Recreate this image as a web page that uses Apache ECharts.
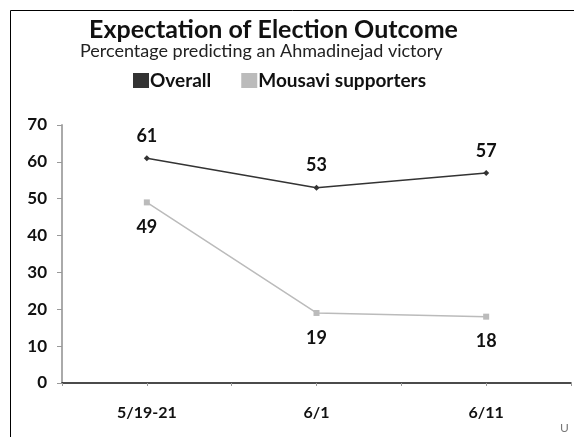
<!DOCTYPE html>
<html>
<head>
<meta charset="utf-8">
<script src="https://cdn.jsdelivr.net/npm/echarts@6/dist/echarts.min.js"></script>
<style>
html, body { margin: 0; padding: 0; background: #fff; }
#main { width: 574px; height: 437px; }
</style>
</head>
<body>
<div id="main"></div>
<script>
// blank slots keep the spacing of the original axis
var categories = ['', '5/19-21', '', '6/1', '', '6/11', ''];
var overall = [null, 61, null, 53, null, 57, null];
var mousavi = [null, 49, null, 19, null, 18, null];
var yTicks = [0, 10, 20, 30, 40, 50, 60, 70];

var chart = echarts.init(document.getElementById('main'));
var font = 'Lato, "Open Sans", sans-serif';

var option = {
    animation: false,
    title: [
        {
            text: 'Expectation of Election Outcome',
            left: 89,
            top: 17,
            padding: 0,
            textStyle: { fontFamily: font, fontSize: 25, fontWeight: 'bold', color: '#111' }
        },
        {
            text: 'Percentage predicting an Ahmadinejad victory',
            left: 80,
            top: 42,
            padding: 0,
            textStyle: { fontFamily: font, fontSize: 18, fontWeight: 'normal', color: '#222' }
        }
    ],
    legend: {
        top: 71,
        left: 133,
        padding: 0,
        itemWidth: 16,
        itemHeight: 15,
        itemGap: 30,
        icon: 'rect',
        textStyle: { fontFamily: font, fontSize: 19, fontWeight: 'bold', color: '#111', padding: [0, 0, 0, -4] },
        data: ['Overall', 'Mousavi supporters']
    },
    grid: { left: 62, top: 125, right: -2, bottom: 54 },
    xAxis: {
        type: 'category',
        data: categories,
        boundaryGap: false,
        axisLine: { lineStyle: { color: '#111', width: 1.5 } },
        axisTick: { show: true, length: 3, lineStyle: { color: '#999' } },
        axisLabel: { interval: 0, margin: 22, fontFamily: font, fontSize: 16, fontWeight: 'bold', color: '#111' },
        splitLine: { show: false }
    },
    yAxis: {
        type: 'value',
        min: yTicks[0],
        max: yTicks[yTicks.length - 1],
        interval: 10,
        axisLine: { show: true, lineStyle: { color: '#aaa', width: 2 } },
        axisTick: { show: true, length: 5, lineStyle: { color: '#999' } },
        axisLabel: { margin: 15, fontFamily: font, fontSize: 17, fontWeight: 'bold', color: '#111' },
        splitLine: { show: false }
    },
    series: [
        {
            name: 'Overall',
            type: 'line',
            data: overall,
            connectNulls: true,
            color: '#333',
            symbol: 'diamond',
            symbolSize: 6,
            lineStyle: { width: 1.5, color: '#333' },
            label: { show: true, position: 'top', distance: 10, fontFamily: font, fontSize: 18, fontWeight: 'bold', color: '#111' }
        },
        {
            name: 'Mousavi supporters',
            type: 'line',
            data: mousavi,
            connectNulls: true,
            color: '#bbb',
            symbol: 'rect',
            symbolSize: 6,
            lineStyle: { width: 1.5, color: '#bbb' },
            label: { show: true, position: 'bottom', distance: 13, fontFamily: font, fontSize: 18, fontWeight: 'bold', color: '#111' }
        }
    ],
    graphic: [
        {
            type: 'rect',
            shape: { x: 10.5, y: 10.5, width: 700, height: 600 },
            style: { fill: 'none', stroke: '#000', lineWidth: 1 },
            silent: true
        },
        {
            type: 'text',
            left: 560,
            top: 422,
            style: { text: 'U', fontFamily: font, fontSize: 12, fill: '#777' }
        }
    ]
};
chart.setOption(option);
</script>
</body>
</html>
